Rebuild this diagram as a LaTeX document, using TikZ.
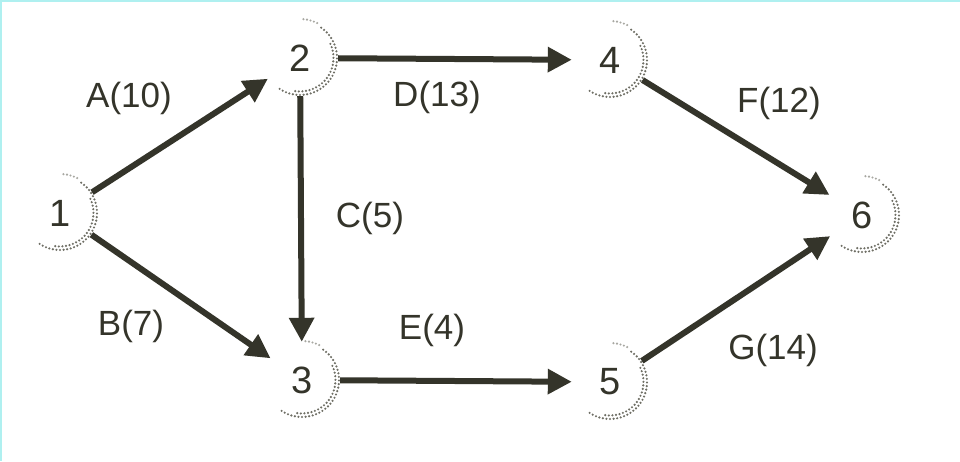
\documentclass[tikz,border=0pt]{standalone}
\usepackage{fontspec}
\setmainfont{Liberation Sans}
\usetikzlibrary{arrows.meta}
\definecolor{ink}{RGB}{52,52,42}
\definecolor{dotgray}{RGB}{110,110,100}
\definecolor{scanedge}{RGB}{175,240,240}
\begin{document}
\begin{tikzpicture}[x=1pt,y=-1pt,
  event/.style={circle,minimum size=76pt,inner sep=0pt,text=ink,font=\fontsize{38}{40}\selectfont},
  act/.style={draw=ink,line width=6pt,-{Triangle[length=24pt,width=24pt]}},
  lbl/.style={text=ink,font=\fontsize{35}{38}\selectfont},
  halftone/.style={draw=dotgray,line width=2.4pt,line cap=round,dash pattern=on 0pt off 3.6pt}]
\useasboundingbox (0,0) rectangle (960,461);
\fill[white] (0,0) rectangle (960,461);
\draw[scanedge,line width=2pt] (0,1) -- (960,1);
\draw[scanedge,line width=2pt] (1,0) -- (1,461);

\node[event] (n1) at (60,213) {1};
\node[event] (n2) at (300,58) {2};
\node[event] (n3) at (302,380) {3};
\node[event] (n4) at (610,60) {4};
\node[event] (n5) at (610,382) {5};
\node[event] (n6) at (862,215) {6};

\foreach \n in {n1,n2,n3,n4,n5,n6}{
  \begin{scope}[shift={(\n.center)},x=1pt,y=1pt]
    \draw[halftone] (55:37) arc[start angle=55,end angle=-125,radius=37];
    \draw[halftone] (25:33.5) arc[start angle=25,end angle=-100,radius=33.5];
    \draw[halftone,draw=dotgray!60] (85:39) arc[start angle=85,end angle=60,radius=39];
  \end{scope}
}

\draw[act] (n1) -- (n2);
\draw[act] (n1) -- (n3);
\draw[act] (n2) -- (n4);
\draw[act] (n2) -- (n3);
\draw[act] (n3) -- (n5);
\draw[act] (n4) -- (n6);
\draw[act] (n5) -- (n6);

\node[lbl] (la) at (129,98) {A(10)};
\node[lbl] (lb) at (131,326) {B(7)};
\node[lbl] (lc) at (370,218) {C(5)};
\node[lbl] (ld) at (437,97) {D(13)};
\node[lbl] (le) at (432,330) {E(4)};
\node[lbl] (lf) at (779,103) {F(12)};
\node[lbl] (lg) at (773,350) {G(14)};
\end{tikzpicture}
\end{document}
